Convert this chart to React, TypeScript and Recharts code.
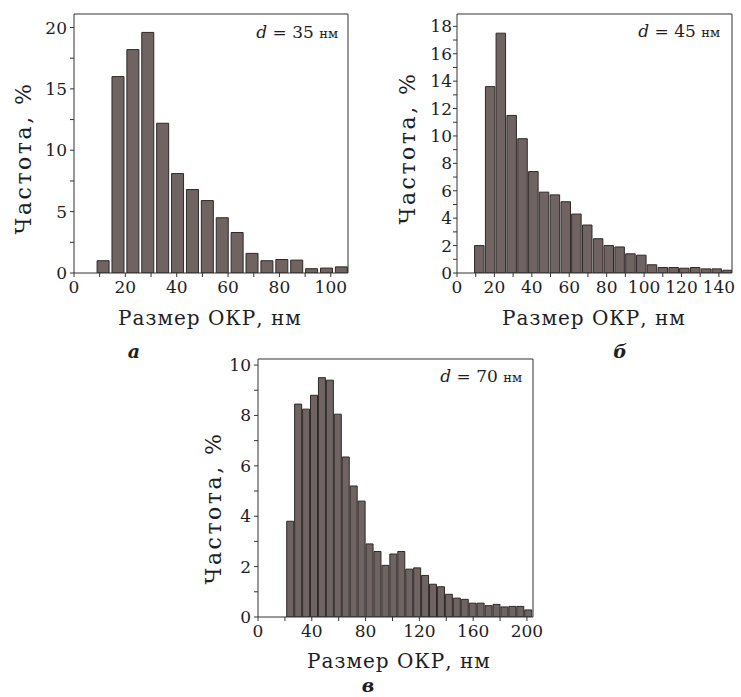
import { Bar, BarChart, ReferenceLine, XAxis, YAxis } from "recharts";

// bin centres (nm) and frequencies (%)
const sizesA = [11.5, 17.3, 23.1, 28.9, 34.7, 40.5, 46.3, 52.1, 57.9, 63.7, 69.5, 75.3, 81.1, 86.9, 92.7, 98.5, 104.3];
const freqA = [1.0, 16.0, 18.2, 19.6, 12.2, 8.1, 6.8, 5.9, 4.5, 3.3, 1.6, 1.0, 1.1, 1.05, 0.35, 0.4, 0.5];

const sizesB = [11.7, 17.5, 23.2, 29.0, 34.8, 40.6, 46.3, 52.1, 57.9, 63.6, 69.4, 75.2, 80.9, 86.7, 92.5, 98.3, 104.0, 109.8, 115.6, 121.3, 127.1, 132.9, 138.6, 144.4];
const freqB = [2.0, 13.6, 17.5, 11.5, 9.8, 7.4, 5.9, 5.7, 5.2, 4.3, 3.5, 2.5, 2.0, 1.9, 1.4, 1.3, 0.6, 0.4, 0.4, 0.35, 0.4, 0.3, 0.3, 0.2];

const sizesC = [24.3, 30.2, 36.1, 42.0, 47.9, 53.8, 59.7, 65.6, 71.5, 77.4, 83.3, 89.2, 95.1, 101.0, 106.9, 112.8, 118.7, 124.6, 130.5, 136.4, 142.3, 148.2, 154.1, 160.0, 165.9, 171.8, 177.7, 183.6, 189.5, 195.4, 201.3];
const freqC = [3.8, 8.45, 8.25, 8.8, 9.5, 9.4, 8.05, 6.35, 5.2, 4.6, 2.9, 2.6, 2.05, 2.5, 2.6, 1.9, 1.95, 1.65, 1.3, 1.2, 0.9, 0.75, 0.7, 0.55, 0.55, 0.45, 0.5, 0.4, 0.42, 0.42, 0.28];

// ticks: all tick marks, and the ones that carry a label
const xTicksA = [0, 10, 20, 30, 40, 50, 60, 70, 80, 90, 100];
const xLabelsA = [0, 20, 40, 60, 80, 100];
const yTicksA = [0, 2.5, 5, 7.5, 10, 12.5, 15, 17.5, 20];
const yLabelsA = [0, 5, 10, 15, 20];

const xTicksB = [0, 10, 20, 30, 40, 50, 60, 70, 80, 90, 100, 110, 120, 130, 140];
const xLabelsB = [0, 20, 40, 60, 80, 100, 120, 140];
const yTicksB = [0, 1, 2, 3, 4, 5, 6, 7, 8, 9, 10, 11, 12, 13, 14, 15, 16, 17, 18];
const yLabelsB = [0, 2, 4, 6, 8, 10, 12, 14, 16, 18];

const xTicksC = [0, 20, 40, 60, 80, 100, 120, 140, 160, 180, 200];
const xLabelsC = [0, 40, 80, 120, 160, 200];
const yTicksC = [0, 1, 2, 3, 4, 5, 6, 7, 8, 9, 10];
const yLabelsC = [0, 2, 4, 6, 8, 10];

const FONT = "'DejaVu Serif', serif";
const INK = "#1e1e1e";

interface PanelProps {
  sizes: number[];
  freqs: number[];
  width: number;
  height: number;
  margin: { top: number; right: number; bottom: number; left: number };
  xMax: number;
  yMax: number;
  xTicks: number[];
  xLabels: number[];
  yTicks: number[];
  yLabels: number[];
  barSize: number;
  yTickMargin: number;
  note: string;
  noteX: number;
  noteY: number;
  letter: string;
  letterX: number;
  letterY: number;
  yTitleX: number;
  yTitleY: number;
  xTitleX: number;
  xTitleY: number;
}

function Panel(p: PanelProps) {
  const data = p.sizes.map((s, i) => ({ size: s, freq: p.freqs[i] }));
  const tickStyle = { fontFamily: FONT, fontSize: 17, fill: INK };

  return (
    <BarChart width={p.width} height={p.height} data={data} margin={p.margin}>
      <XAxis
        dataKey="size"
        type="number"
        domain={[0, p.xMax]}
        allowDataOverflow
        ticks={p.xTicks}
        interval={0}
        tickFormatter={(v: number) => (p.xLabels.includes(v) ? String(v) : "")}
        tick={tickStyle}
        tickSize={4}
        tickMargin={4}
        height={30}
        stroke="#333"
      />
      <YAxis
        type="number"
        domain={[0, p.yMax]}
        allowDataOverflow
        ticks={p.yTicks}
        interval={0}
        tickFormatter={(v: number) => (p.yLabels.includes(v) ? String(v) : "")}
        tick={tickStyle}
        tickSize={4}
        tickMargin={p.yTickMargin}
        width={50}
        stroke="#333"
      />
      <ReferenceLine y={p.yMax} stroke="#333" />
      <ReferenceLine x={p.xMax} stroke="#333" />
      <Bar
        dataKey="freq"
        fill="#6f6462"
        stroke="#2e2928"
        strokeWidth={1}
        barSize={p.barSize}
        isAnimationActive={false}
      />
      <text
        x={p.noteX}
        y={p.noteY}
        textAnchor="end"
        fontFamily={FONT}
        fontSize={17}
        fill={INK}
      >
        <tspan fontStyle="italic">d</tspan> = {p.note}{" "}
        <tspan fontSize={13}>нм</tspan>
      </text>
      <text
        x={p.yTitleX}
        y={p.yTitleY}
        transform={`rotate(-90 ${p.yTitleX} ${p.yTitleY})`}
        textAnchor="middle"
        dominantBaseline="central"
        fontFamily={FONT}
        fontSize={22}
        letterSpacing={2.5}
        fill={INK}
      >
        Частота, %
      </text>
      <text
        x={p.xTitleX}
        y={p.xTitleY}
        textAnchor="middle"
        fontFamily={FONT}
        fontSize={20}
        letterSpacing={1}
        fill={INK}
      >
        Размер ОКР, нм
      </text>
      <text
        x={p.letterX}
        y={p.letterY}
        textAnchor="middle"
        fontFamily={FONT}
        fontSize={19}
        fontStyle="italic"
        fontWeight="bold"
        fill={INK}
      >
        {p.letter}
      </text>
    </BarChart>
  );
}

export default function App() {
  return (
    <div
      style={{
        position: "absolute",
        left: 0,
        top: 0,
        width: 741,
        height: 697,
        background: "#fff",
      }}
    >
      <div style={{ position: "absolute", left: 0, top: 0 }}>
        <Panel
          sizes={sizesA}
          freqs={freqA}
          width={370}
          height={365}
          margin={{ top: 14, right: 22, bottom: 62, left: 24 }}
          xMax={106.7}
          yMax={21.1}
          xTicks={xTicksA}
          xLabels={xLabelsA}
          yTicks={yTicksA}
          yLabels={yLabelsA}
          barSize={12}
          yTickMargin={3}
          note="35"
          noteX={338}
          noteY={38}
          letter="а"
          letterX={134}
          letterY={358}
          yTitleX={23}
          yTitleY={158}
          xTitleX={210}
          xTitleY={325}
        />
      </div>
      <div style={{ position: "absolute", left: 370, top: 0 }}>
        <Panel
          sizes={sizesB}
          freqs={freqB}
          width={371}
          height={365}
          margin={{ top: 14, right: 9, bottom: 62, left: 37 }}
          xMax={147}
          yMax={18.9}
          xTicks={xTicksB}
          xLabels={xLabelsB}
          yTicks={yTicksB}
          yLabels={yLabelsB}
          barSize={9.5}
          yTickMargin={1}
          note="45"
          noteX={350}
          noteY={37}
          letter="б"
          letterX={250}
          letterY={358}
          yTitleX={37}
          yTitleY={148}
          xTitleX={224}
          xTitleY={325}
        />
      </div>
      <div style={{ position: "absolute", left: 190, top: 340 }}>
        <Panel
          sizes={sizesC}
          freqs={freqC}
          width={370}
          height={357}
          margin={{ top: 19, right: 27, bottom: 50, left: 18 }}
          xMax={204.5}
          yMax={10.24}
          xTicks={xTicksC}
          xLabels={xLabelsC}
          yTicks={yTicksC}
          yLabels={yLabelsC}
          barSize={7}
          yTickMargin={3}
          note="70"
          noteX={332}
          noteY={42}
          letter="в"
          letterX={178}
          letterY={352}
          yTitleX={23}
          yTitleY={168}
          xTitleX={209}
          xTitleY={328}
        />
      </div>
    </div>
  );
}
